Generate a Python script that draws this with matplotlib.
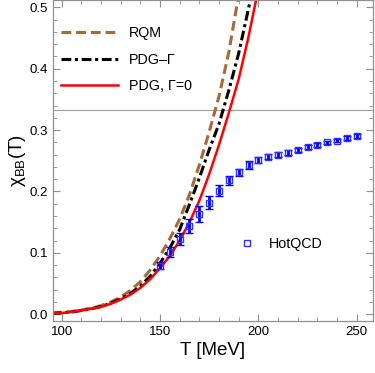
import matplotlib
matplotlib.use("Agg")
import matplotlib.pyplot as plt
from matplotlib.ticker import MultipleLocator
from matplotlib.lines import Line2D

plt.rcParams["font.family"] = ["Liberation Sans", "DejaVu Sans"]
plt.rcParams["mathtext.fontset"] = "custom"
plt.rcParams["mathtext.rm"] = "Liberation Sans"
plt.rcParams["mathtext.it"] = "Liberation Sans:italic"

# model curves
T_curve = [95, 100, 105, 110, 115, 120, 125, 130, 135, 140, 145, 150,
           155, 160, 165, 170, 175, 180, 185, 190, 195, 200]
rqm = [0.002, 0.003, 0.0045, 0.0068, 0.010, 0.014, 0.020, 0.028, 0.039,
       0.053, 0.072, 0.095, 0.123, 0.155, 0.195, 0.243, 0.297, 0.355,
       0.427, 0.52, 0.62, 0.72]
pdg_width = [0.0015, 0.0022, 0.0038, 0.006, 0.009, 0.0125, 0.018, 0.025,
             0.034, 0.046, 0.062, 0.083, 0.108, 0.138, 0.179, 0.222, 0.268,
             0.31, 0.365, 0.425, 0.498, 0.575]
pdg_zero = [0.0015, 0.002, 0.0038, 0.006, 0.009, 0.012, 0.017, 0.024,
            0.032, 0.043, 0.057, 0.075, 0.095, 0.12, 0.150, 0.185, 0.228,
            0.276, 0.328, 0.383, 0.452, 0.53]

# HotQCD lattice points
T_lat = [150, 155, 160, 165, 170, 175, 180, 185, 190, 195, 200, 205, 210,
         215, 220, 225, 230, 235, 240, 245, 250]
chi_lat = [0.079, 0.102, 0.123, 0.144, 0.163, 0.182, 0.201, 0.218, 0.231,
           0.243, 0.252, 0.257, 0.260, 0.263, 0.268, 0.272, 0.276, 0.280,
           0.283, 0.287, 0.290]
err_lat = [0.006, 0.008, 0.010, 0.012, 0.013, 0.011, 0.009, 0.007, 0.006,
           0.006, 0.005, 0.004, 0.004, 0.004, 0.003, 0.003, 0.003, 0.003,
           0.003, 0.003, 0.003]

fig = plt.figure(figsize=(3.75, 3.73), dpi=100)
ax = fig.add_axes([0.1413, 0.1394, 0.8534, 0.8606])

ax.axhline(1 / 3, color="#a0a0a0", lw=0.8, zorder=1)

brown = "#a8693a"
l1, = ax.plot(T_curve, rqm, color=brown, lw=2.2, ls=(0, (3.2, 1.6)))
l2, = ax.plot(T_curve, pdg_width, color="black", lw=2.2,
              ls=(0, (3.2, 1.2, 1.0, 1.2)))
l3, = ax.plot(T_curve, pdg_zero, color="#ff0000", lw=1.8)

ax.errorbar(T_lat, chi_lat, yerr=err_lat, fmt="s", ms=4.5, mfc="none",
            mec="#3030ff", mew=1.0, ecolor="#0000ff", elinewidth=2.0,
            capsize=2.8, capthick=1.6, zorder=4)

ax.set_xlim(95.6, 258.3)
ax.set_ylim(-0.011, 0.512)
ax.xaxis.set_major_locator(MultipleLocator(50))
ax.xaxis.set_minor_locator(MultipleLocator(10))
ax.yaxis.set_major_locator(MultipleLocator(0.1))
ax.yaxis.set_minor_locator(MultipleLocator(0.02))
ax.yaxis.set_major_formatter(plt.FuncFormatter(lambda v, p: f"{v:.1f}"))
ax.tick_params(which="both", direction="in", top=True, right=True,
               color="#909090", labelsize=9.5, labelcolor="black")
ax.tick_params(which="major", length=5, width=0.8, pad=3.5)
ax.tick_params(which="minor", length=3, width=0.6)
for s in ax.spines.values():
    s.set_color("#909090")
    s.set_linewidth(0.9)

ax.set_xlabel("T [MeV]", fontsize=13.5, labelpad=3)
ax.set_ylabel(r"$\mathregular{\chi_{BB}}$(T)", fontsize=13.5, labelpad=1)

leg1 = ax.legend([l1, l2, l3], ["RQM", "PDG\u2013\u0393", "PDG, \u0393=0"],
                 loc="upper left", bbox_to_anchor=(-0.015, 0.958),
                 frameon=False, fontsize=10.3, handlelength=4.0,
                 handletextpad=0.75, labelspacing=0.86)
ax.add_artist(leg1)
hq = Line2D([], [], ls="none", marker="s", ms=4.5, mfc="none",
            mec="#3030ff", mew=1.0)
ax.legend([hq], ["HotQCD"], loc="center left", bbox_to_anchor=(0.545, 0.24),
          frameon=False, fontsize=10.3, handlelength=1.0, handletextpad=1.0)

fig.savefig("out.png", dpi=100)
